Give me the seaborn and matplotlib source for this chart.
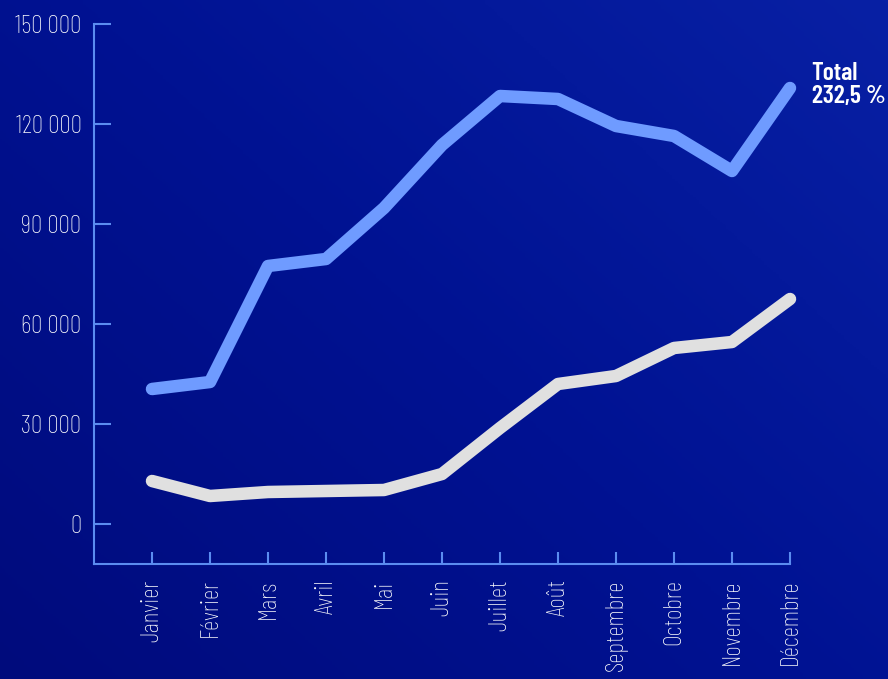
import numpy as np
import pandas as pd
import matplotlib
matplotlib.use("Agg")
import matplotlib.pyplot as plt
from matplotlib.ticker import FuncFormatter
from matplotlib.colors import LinearSegmentedColormap
import seaborn as sns

# chart data
months = ["Janvier", "Février", "Mars", "Avril", "Mai", "Juin", "Juillet",
          "Août", "Septembre", "Octobre", "Novembre", "Décembre"]
total_values = [40500, 42600, 77400, 79500, 94800, 113700, 128400,
                127500, 119400, 116400, 105900, 130800]
base_values = [12900, 8400, 9600, 9900, 10200, 15000, 28800,
               42000, 44400, 52800, 54600, 67500]
y_ticks = [0, 30000, 60000, 90000, 120000, 150000]
end_label = "Total\n232,5 %"

sns.set_theme(style="white")
plt.rcParams['font.family'] = ['Barlow Condensed', 'DejaVu Sans']

df = pd.DataFrame({
    "month": list(range(len(months))) * 2,
    "value": total_values + base_values,
    "serie": ["total"] * len(months) + ["base"] * len(months),
})

fig = plt.figure(figsize=(8.88, 6.79), dpi=100)

# dark blue background with a soft gradient
bg = fig.add_axes([0, 0, 1, 1], zorder=-1)
xx, yy = np.meshgrid(np.linspace(0, 1, 300), np.linspace(0, 1, 300))
grad = 0.55 * xx + 0.45 * (1 - yy)
cmap = LinearSegmentedColormap.from_list("navy", ["#000b7c", "#001292", "#0820a4"])
bg.imshow(grad, cmap=cmap, aspect="auto", extent=[0, 1, 0, 1], origin="upper")
bg.axis("off")

ax = fig.add_axes([94 / 888, 1 - 564 / 679, (790 - 94) / 888, (564 - 24) / 679])
ax.patch.set_alpha(0)

palette = {"total": "#6f9bff", "base": "#e0e0e0"}
sns.lineplot(data=df, x="month", y="value", hue="serie", palette=palette,
             linewidth=9, legend=False, ax=ax)
for line in ax.get_lines():
    line.set_solid_capstyle("round")
    line.set_solid_joinstyle("round")
    line.set_clip_on(False)

ax.set_xlim(-1, 11)
ax.set_ylim(-12000, 150000)
ax.set_yticks(y_ticks)
ax.yaxis.set_major_formatter(FuncFormatter(lambda v, p: f"{int(v):,}".replace(",", " ")))
ax.set_xticks(range(len(months)))
ax.set_xticklabels(months, rotation=90)
ax.set_xlabel("")
ax.set_ylabel("")

axis_color = "#5b8cf0"
for side in ["top", "right"]:
    ax.spines[side].set_visible(False)
for side in ["left", "bottom"]:
    ax.spines[side].set_color(axis_color)
    ax.spines[side].set_linewidth(1.5)

ax.tick_params(axis="y", direction="in", length=12, width=1.5, color=axis_color,
               labelcolor="white", labelsize=18.5, pad=9, left=True)
ax.tick_params(axis="x", direction="in", length=8.5, width=1.5, color=axis_color,
               labelcolor="white", labelsize=18.5, pad=11, bottom=True)
for lab in ax.get_xticklabels() + ax.get_yticklabels():
    lab.set_fontweight("light")

ax.annotate(end_label, xy=(11, total_values[-1]), xytext=(15.5, 2),
            textcoords="offset points", ha="left", va="center",
            color="white", fontsize=18.5, fontweight="semibold", linespacing=1.0,
            annotation_clip=False)

fig.savefig("out.png", dpi=100)
